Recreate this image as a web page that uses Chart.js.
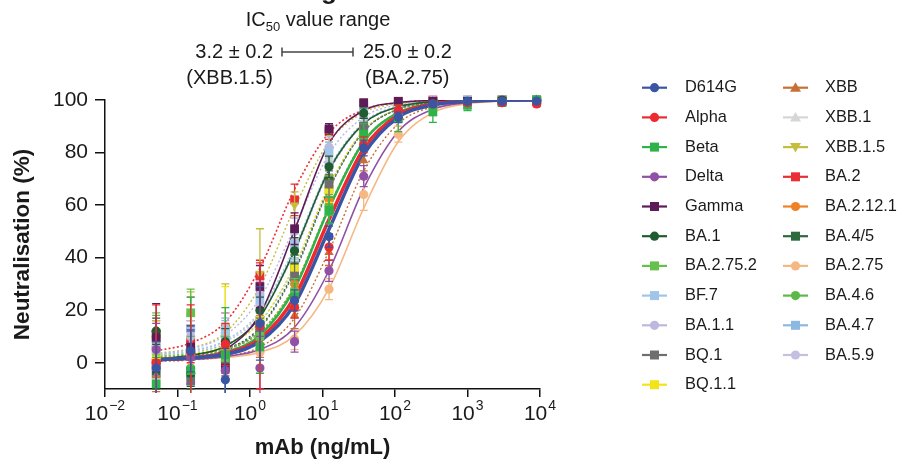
<!DOCTYPE html>
<html><head><meta charset="utf-8">
<script src="https://cdn.jsdelivr.net/npm/chart.js@4.4.0/dist/chart.umd.min.js"></script>
<style>html,body{margin:0;padding:0;background:#fff;}canvas{display:block}</style>
</head><body>
<canvas id="c" width="898" height="460"></canvas>
<script>
// ---------- data ----------
const concentrations = [0.0508, 0.152, 0.457, 1.37, 4.12, 12.3, 37.0, 111, 333, 1000, 3000, 9000];
const variants = ['D614G','Alpha','Beta','Delta','Gamma','BA.1','BA.2.75.2','BF.7','BA.1.1','BQ.1','BQ.1.1',
                  'XBB','XBB.1','XBB.1.5','BA.2','BA.2.12.1','BA.4/5','BA.2.75','BA.4.6','BA.4.7','BA.5.9'];
const meanValues = [
  [-2, 4.5, -6.5, 15, 23.7, 48, 81.7, 93.4, 98.5, 99.5, 99.5, 99.6],
  [0, 4, 7, 14, 21, 44, 83, 96, 98.5, 99, 99, 98.5],
  [-8, -3, 3, 6, 25, 58, 87, 93, 95.5, 98, 99, 100],
  [5, 2, -3, -2, 8, 35, 71, 95, 98, 99, 99.5, 99.5],
  [9.5, 6, -2, 29, 51, 89, 99, 99.5, 99.5, 99.5, 99.5, 99.5],
  [12, -4, 8, 20, 42.6, 74.6, 95, 99, 99.5, 99.5, 100, 100],
  [11, 19, 2, 10, 27, 58, 85, 95, 98.5, 99.5, 99.8, 100],
  [5, 13, 12, 24, 45, 80, 96, 99, 99.5, 100, 100, 100],
  [6, 10, 13, 26, 50, 82, 97, 99, 100, 100, 100, 100],
  [-1, -7, 1, 12, 33, 68, 90, 97, 99, 99.5, 100, 100],
  [3, 5, 12, 16, 36, 66, 88, 97, 99, 99.5, 100, 100],
  [-5, 19, 4, 8, 18, 42, 77, 94, 98, 99, 99.5, 100],
  [4, 7, 9, 20, 44, 78, 95, 99, 99.5, 100, 100, 100],
  [8, 12, 14, 34, 60, 87, 97, 99.5, 100, 100, 100, 100],
  [0, 8, 13, 33, 62, 88, 98, 99.5, 100, 100, 100, 100],
  [10, 8, 5, 12, 30, 62, 87, 96, 99, 99.5, 100, 100],
  [-4, -4, 2, 14, 36, 70, 90, 97, 99, 99.5, 100, 100],
  [1, 3, 0, 4, 9, 28, 64, 87, 96, 99, 99.5, 99.8],
  [12, -2, 6, 10, 27, 60, 86, 95, 98, 99.5, 100, 100],
  [8, 13, 10, 16, 38, 66, 88, 97, 99, 99.5, 100, 100],
  [6, 5, 11, 22, 46, 76, 94, 98.5, 99.5, 100, 100, 100]
];
const sdValues = [
  [10, 8, 12, 14, 4, 4, 3, 2, 1, 1, 0.5, 0.5],
  [22, 18, 8, 24, 4, 5, 3, 2, 1, 1, 1, 1],
  [10, 28, 18, 10, 5, 5, 4, 5, 4, 2, 1, 1],
  [10, 10, 10, 12, 4, 4, 4, 2, 1, 1, 1, 1],
  [13, 8, 10, 8, 6, 2, 1, 1, 1, 1, 1, 1],
  [5, 5, 5, 5, 5, 4, 2, 1, 1, 1, 1, 1],
  [8, 9, 8, 5, 5, 5, 3, 2, 1, 1, 1, 1],
  [8, 6, 5, 5, 5, 4, 2, 1, 1, 1, 1, 1],
  [7, 6, 6, 5, 5, 4, 2, 1, 1, 1, 1, 1],
  [6, 5, 6, 5, 5, 5, 3, 2, 1, 1, 1, 1],
  [8, 8, 17, 10, 6, 5, 3, 2, 1, 1, 1, 1],
  [6, 6, 6, 6, 5, 5, 4, 2, 1, 1, 1, 1],
  [6, 6, 6, 5, 5, 4, 2, 1, 1, 1, 1, 1],
  [8, 15, 16, 17, 5, 3, 2, 1, 1, 1, 1, 1],
  [8, 8, 6, 6, 6, 3, 2, 1, 1, 1, 1, 1],
  [6, 6, 6, 6, 5, 4, 3, 2, 1, 1, 1, 1],
  [6, 6, 6, 5, 5, 4, 3, 2, 1, 1, 1, 1],
  [6, 6, 6, 5, 4, 4, 6, 3, 2, 1, 1, 1],
  [6, 6, 6, 5, 5, 4, 3, 2, 1, 1, 1, 1],
  [8, 6, 6, 5, 5, 4, 3, 2, 1, 1, 1, 1],
  [6, 6, 6, 5, 5, 4, 2, 1, 1, 1, 1, 1]
];
const fitValues = [
  [1.2, 1.8, 3.2, 8.1, 22.3, 50.8, 79.2, 93.4, 98.1, 99.5, 99.9, 100],
  [1.2, 1.9, 3.6, 9.2, 25.0, 54.5, 81.5, 94.3, 98.4, 99.6, 99.9, 100],
  [1.3, 2.0, 4.0, 10.4, 28.2, 58.8, 84.1, 95.2, 98.6, 99.6, 99.9, 100],
  [1.1, 1.3, 2.4, 5.0, 13.5, 35.1, 66.4, 88.0, 96.5, 99.0, 99.7, 100],
  [0.8, 1.5, 5.0, 18.5, 50.5, 83.5, 96.0, 99.0, 99.8, 100, 100, 100],
  [1.4, 2.8, 6.3, 17.4, 42.7, 73.3, 91.0, 97.4, 99.3, 99.8, 100, 100],
  [2.2, 3.2, 5.2, 11.5, 29.0, 59.0, 84.0, 95.0, 98.5, 99.6, 99.9, 100],
  [3.0, 4.6, 8.5, 19.5, 44.0, 74.0, 91.5, 97.6, 99.3, 99.8, 100, 100],
  [3.2, 5.2, 10.5, 24.5, 51.5, 79.5, 93.5, 98.2, 99.5, 99.9, 100, 100],
  [1.0, 2.0, 4.5, 13.0, 34.5, 66.0, 88.0, 96.5, 99.0, 99.7, 100, 100],
  [2.0, 3.4, 6.5, 15.5, 37.0, 67.5, 88.5, 96.6, 99.0, 99.7, 100, 100],
  [0.5, 1.0, 2.4, 6.0, 17.0, 42.5, 73.0, 91.0, 97.4, 99.3, 99.8, 100],
  [2.8, 4.2, 8.0, 19.0, 43.5, 73.8, 91.2, 97.5, 99.3, 99.8, 100, 100],
  [3.5, 5.5, 11.5, 29.0, 59.0, 84.0, 95.2, 98.6, 99.6, 99.9, 100, 100],
  [4.5, 7.5, 15.5, 36.0, 66.0, 87.5, 96.3, 99.0, 99.7, 99.9, 100, 100],
  [1.8, 2.8, 5.0, 11.5, 29.5, 59.5, 84.5, 95.3, 98.6, 99.6, 99.9, 100],
  [1.3, 2.4, 5.0, 13.5, 35.1, 66.4, 88.0, 96.5, 99.0, 99.7, 100, 100],
  [1.0, 1.3, 2.0, 4.0, 10.4, 28.2, 58.8, 84.1, 95.2, 98.6, 99.6, 99.9],
  [2.5, 3.5, 5.5, 11.8, 29.0, 58.5, 83.8, 95.0, 98.5, 99.6, 99.9, 100],
  [2.6, 4.0, 7.0, 15.5, 36.5, 67.0, 88.3, 96.6, 99.0, 99.7, 100, 100],
  [3.0, 4.5, 8.0, 18.0, 42.0, 72.5, 90.8, 97.4, 99.3, 99.8, 100, 100]
];
const yTickValues = [0, 20, 40, 60, 80, 100];
const xTickExponents = [-2, -1, 0, 1, 2, 3, 4];
const ic50Low = '3.2 \u00b1 0.2', ic50LowName = '(XBB.1.5)';
const ic50High = '25.0 \u00b1 0.2', ic50HighName = '(BA.2.75)';

// ---------- styles ----------
const seriesColors = ['#3b55a5','#ec2a2f','#2db34a','#9150a6','#5d1b58','#1f5c30','#66c04d','#9fc5e8','#bdb8de','#6e6e6e','#f3e41a',
                      '#c76f35','#d6d6d6','#c4be3c','#ea2e36','#f08124','#2d6a3e','#f6b882','#5bba47','#8cb8e2','#c5c0e2'];
const seriesShapes = ['circle','circle','rect','circle','rect','circle','rect','rect','circle','rect','rect',
                      'triangle','triangle','triangleDown','rect','circle','rect','circle','circle','rect','circle'];
const seriesSolid = [true,true,true,true,true,true,false,false,false,false,false,
                     false,false,false,false,false,false,true,false,false,false];
const seriesWidth = [3.5,3.5,2.5,1.6,1.6,1.6,1.4,1.4,1.4,1.4,1.4,1.4,1.4,1.4,1.6,1.4,1.4,1.6,1.4,1.4,1.4];
const FONT = '"Liberation Sans", Arial, Helvetica, sans-serif';
const TXT = '#1a1a1a';

function pointStyleOf(s){ return s === 'triangleDown' ? 'triangle' : s; }
function pointRadiusOf(s){ return s === 'rect' ? 6.2 : (s === 'circle' ? 4.6 : 5.4); }

const datasets = [];
variants.forEach((name, i) => {
  datasets.push({
    label: name, kind: 'points', sIndex: i,
    data: concentrations.map((c, j) => ({x: c, y: meanValues[i][j]})),
    showLine: false,
    pointStyle: pointStyleOf(seriesShapes[i]),
    rotation: seriesShapes[i] === 'triangleDown' ? 180 : 0,
    pointRadius: pointRadiusOf(seriesShapes[i]),
    pointBackgroundColor: seriesColors[i],
    pointBorderColor: seriesColors[i],
    pointBorderWidth: 0,
    order: i,
    clip: {left: 8, right: 8, top: 8, bottom: 2}
  });
});
variants.forEach((name, i) => {
  datasets.push({
    label: name + ' fit', kind: 'fit', sIndex: i,
    data: concentrations.map((c, j) => ({x: c, y: fitValues[i][j]})),
    showLine: true,
    borderColor: seriesColors[i],
    borderWidth: seriesWidth[i],
    borderDash: seriesSolid[i] ? [] : [2, 2.2],
    cubicInterpolationMode: 'monotone',
    pointRadius: 0,
    fill: false,
    order: 100 + i
  });
});

function drawMarker(ctx, shape, x, y, color){
  ctx.fillStyle = color; ctx.beginPath();
  if (shape === 'circle') ctx.arc(x, y, 4.6, 0, Math.PI * 2);
  else if (shape === 'rect') ctx.rect(x - 4.5, y - 4.5, 9, 9);
  else if (shape === 'triangle') { ctx.moveTo(x, y - 5.5); ctx.lineTo(x + 5.5, y + 4); ctx.lineTo(x - 5.5, y + 4); ctx.closePath(); }
  else { ctx.moveTo(x, y + 5.5); ctx.lineTo(x + 5.5, y - 4); ctx.lineTo(x - 5.5, y - 4); ctx.closePath(); }
  ctx.fill();
}

const errorBarPlugin = {
  id: 'errorBars',
  beforeDatasetDraw(chart, args) {
    const ds = chart.data.datasets[args.index];
    if (ds.kind !== 'points') return;
    const i = ds.sIndex, ctx = chart.ctx, ys = chart.scales.y, a = chart.chartArea;
    ctx.save();
    ctx.beginPath(); ctx.rect(a.left - 10, a.top - 10, a.right - a.left + 20, a.bottom - a.top + 14); ctx.clip();
    ctx.strokeStyle = seriesColors[i]; ctx.lineWidth = 1.3;
    args.meta.data.forEach((pt, j) => {
      const m = meanValues[i][j], s = sdValues[i][j];
      const y1 = ys.getPixelForValue(m + s), y2 = ys.getPixelForValue(m - s);
      ctx.beginPath();
      ctx.moveTo(pt.x, y1); ctx.lineTo(pt.x, y2);
      ctx.moveTo(pt.x - 4, y1); ctx.lineTo(pt.x + 4, y1);
      ctx.moveTo(pt.x - 4, y2); ctx.lineTo(pt.x + 4, y2);
      ctx.stroke();
    });
    ctx.restore();
  }
};

const decorPlugin = {
  id: 'decor',
  afterDraw(chart) {
    const ctx = chart.ctx, xs = chart.scales.x;
    ctx.save();
    ctx.fillStyle = TXT;
    // x tick labels with superscripts
    xTickExponents.forEach(e => {
      const cx = xs.getPixelForValue(Math.pow(10, e));
      const expTxt = e < 0 ? '\u2212' + Math.abs(e) : String(e);
      ctx.font = '21px ' + FONT; const bw = ctx.measureText('10').width;
      ctx.font = '14px ' + FONT; const ew = ctx.measureText(expTxt).width;
      const x0 = cx - (bw + ew + 1) / 2;
      ctx.textAlign = 'left'; ctx.textBaseline = 'middle';
      ctx.font = '21px ' + FONT; ctx.fillText('10', x0, 414);
      ctx.font = '14px ' + FONT; ctx.fillText(expTxt, x0 + bw + 1, 406);
    });
    // partial title glyph at top edge
    ctx.font = 'bold 26px ' + FONT; ctx.textAlign = 'center'; ctx.textBaseline = 'alphabetic';
    ctx.fillText('g', 329, -1);
    // IC50 annotation
    ctx.textBaseline = 'middle';
    ctx.font = '20px ' + FONT;
    const w1 = ctx.measureText('IC').width, w3 = ctx.measureText(' value range').width;
    ctx.font = '13px ' + FONT; const w2 = ctx.measureText('50').width;
    let x0 = 318 - (w1 + w2 + w3) / 2;
    ctx.textAlign = 'left';
    ctx.font = '20px ' + FONT; ctx.fillText('IC', x0, 20);
    ctx.font = '13px ' + FONT; ctx.fillText('50', x0 + w1, 27);
    ctx.font = '20px ' + FONT; ctx.fillText(' value range', x0 + w1 + w2, 20);
    ctx.textAlign = 'right'; ctx.fillText(ic50Low, 273, 52); ctx.fillText(ic50LowName, 273, 78);
    ctx.textAlign = 'left'; ctx.fillText(ic50High, 363, 52); ctx.fillText(ic50HighName, 365, 78);
    ctx.strokeStyle = '#444'; ctx.lineWidth = 1.5;
    ctx.beginPath();
    ctx.moveTo(282, 52); ctx.lineTo(353, 52);
    ctx.moveTo(282, 47.5); ctx.lineTo(282, 56.5);
    ctx.moveTo(353, 47.5); ctx.lineTo(353, 56.5);
    ctx.stroke();
    // legend
    ctx.font = '16.4px ' + FONT; ctx.textBaseline = 'middle'; ctx.textAlign = 'left';
    variants.forEach((name, i) => {
      const col = i < 11 ? 0 : 1, row = i < 11 ? i : i - 11;
      const lx = col === 0 ? 642 : 783, tx = col === 0 ? 685 : 825;
      const y = 87.7 + row * 29.7;
      ctx.strokeStyle = seriesColors[i]; ctx.lineWidth = 2.2;
      ctx.beginPath(); ctx.moveTo(lx, y); ctx.lineTo(lx + 25, y); ctx.stroke();
      drawMarker(ctx, seriesShapes[i], lx + 12.5, y, seriesColors[i]);
      ctx.fillStyle = TXT; ctx.fillText(name, tx, y);
    });
    ctx.restore();
  }
};

new Chart(document.getElementById('c'), {
  type: 'line',
  data: { datasets },
  options: {
    responsive: false, animation: false, devicePixelRatio: 1,
    layout: { padding: { top: 100, right: 358, left: 0, bottom: 0 } },
    plugins: { legend: { display: false }, tooltip: { enabled: false } },
    scales: {
      x: {
        type: 'logarithmic', min: 0.01, max: 10000,
        afterBuildTicks: s => { s.ticks = xTickExponents.map(e => ({ value: Math.pow(10, e) })); },
        afterFit: s => { s.height = 71; },
        ticks: { display: false },
        grid: { drawOnChartArea: false, drawTicks: true, tickLength: 8, color: '#111', lineWidth: 1.5 },
        border: { display: true, color: '#111', width: 1.5 },
        title: { display: true, text: 'mAb (ng/mL)', color: TXT, font: { family: FONT, size: 22, weight: 'bold', lineHeight: 1 }, padding: { top: 0, bottom: 1 } }
      },
      y: {
        type: 'linear', min: -10, max: 100,
        afterBuildTicks: s => { s.ticks = yTickValues.map(v => ({ value: v })); },
        afterFit: s => { s.width = 105; },
        ticks: { color: TXT, font: { family: FONT, size: 21 }, padding: 7 },
        grid: { drawOnChartArea: false, drawTicks: true, tickLength: 10, color: '#111', lineWidth: 1.5 },
        border: { display: true, color: '#111', width: 1.5 },
        title: { display: true, text: 'Neutralisation (%)', color: TXT, font: { family: FONT, size: 22.5, weight: 'bold', lineHeight: 1 }, padding: { top: 12, bottom: 0 } }
      }
    }
  },
  plugins: [errorBarPlugin, decorPlugin]
});
</script>
</body></html>
